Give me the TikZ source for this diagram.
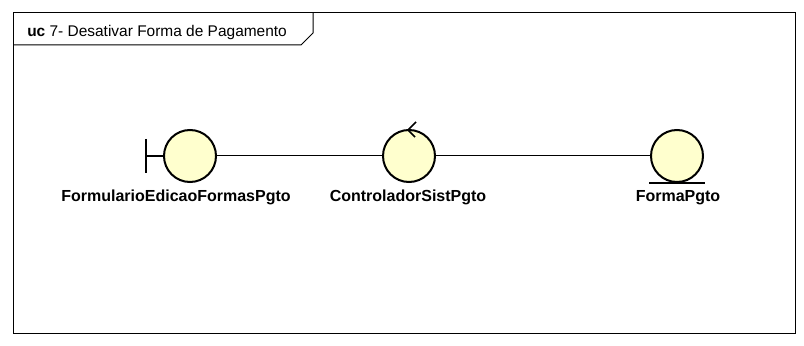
\documentclass[tikz,border=0pt]{standalone}
\usepackage{fontspec}
\setmainfont{Liberation Sans}
\usepackage{xcolor}
\usetikzlibrary{positioning}
\definecolor{robfill}{RGB}{255,255,206}

\begin{document}
\begin{tikzpicture}[
  x=0.75pt, y=-0.75pt,
  robust/.style={draw, circle, fill=robfill, line width=1.5pt, minimum size=39pt, inner sep=0pt},
  lbl/.style={font=\bfseries\fontsize{12}{14}\selectfont, anchor=base, inner sep=0pt},
  link/.style={line width=0.75pt},
  mark line/.style={line width=1.5pt}
]
\useasboundingbox (0,0) rectangle (804,346);
% frame with its name tab
\draw[link] (13,13) rectangle (795,333);
\draw[link] (13,45) -- (301,45) -- (313,33) -- (313,13);
\node[anchor=base west, inner sep=0pt, font=\fontsize{11.6}{14}\selectfont] (title) at (27,37) {\textbf{uc} 7- Desativar Forma de Pagamento};

\node[robust] (bnd) at (190,156) {};
\node[robust] (ctrl) at (409,156) {};
\node[robust] (ent) at (677,156) {};

\draw[link] (bnd) -- (ctrl);
\draw[link] (ctrl) -- (ent);

% boundary bar
\draw[mark line] (bnd.west) -- ++(-17,0) coordinate (bndbar);
\draw[mark line] ([shift={(0,-17)}]bndbar) -- ([shift={(0,17)}]bndbar);
% control arrow
\draw[line width=1.2pt] ([shift={(7,-7)}]ctrl.north) -- ([shift={(-1,1)}]ctrl.north) -- ([shift={(6,8)}]ctrl.north);
% entity underline
\draw[mark line] ([shift={(-28,0)}]ent.south) -- ([shift={(28,0)}]ent.south);

\node[lbl] (bndlbl) at (176,201) {FormularioEdicaoFormasPgto};
\node[lbl] (ctrllbl) at (408,201) {ControladorSistPgto};
\node[lbl] (entlbl) at (678,201) {FormaPgto};
\end{tikzpicture}
\end{document}
